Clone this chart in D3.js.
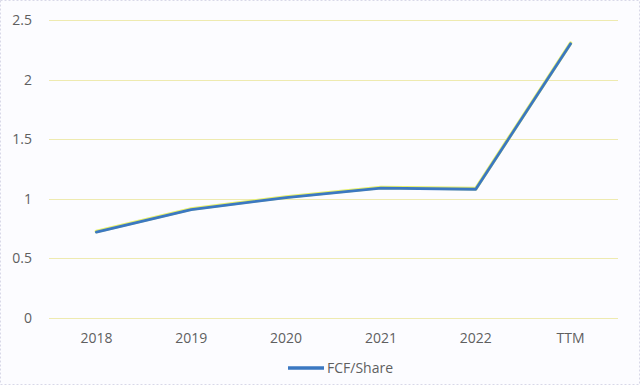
<!DOCTYPE html>
<html lang="en">
  <head>
    <meta charset="utf-8">
    <title>FCF/Share</title>
    <script src="https://d3js.org/d3.v7.min.js"></script>
    <style>
      body { margin: 0; background: #ffffff; }
    </style>
  </head>
  <body>
    <div id="my_dataviz"></div>
    <script>

    // data
    var categories = ["2018", "2019", "2020", "2021", "2022", "TTM"];
    var fcfPerShare = [0.72, 0.91, 1.01, 1.09, 1.08, 2.30];
    var yTicks = [0, 0.5, 1, 1.5, 2, 2.5];
    var seriesName = "FCF/Share";

    var W = 640, H = 385;
    var margin = {top: 20, right: 22, bottom: 67, left: 49},
        width = W - margin.left - margin.right,
        height = H - margin.top - margin.bottom;

    var root = d3.select("#my_dataviz")
      .append("svg")
        .attr("width", W)
        .attr("height", H);

    // chart background and border
    root.append("rect")
      .attr("x", 0.5).attr("y", 0.5)
      .attr("width", W - 1).attr("height", H - 1)
      .attr("fill", "#fcfcff")
      .attr("stroke", "#d8d8e8")
      .attr("stroke-dasharray", "2,2");

    var svg = root.append("g")
      .attr("transform", "translate(" + margin.left + "," + margin.top + ")");

    var x = d3.scaleBand()
      .domain(categories)
      .range([0, width]);

    var y = d3.scaleLinear()
      .domain([0, 2.5])
      .range([height, 0]);

    // gridlines
    svg.append("g")
      .selectAll("line")
      .data(yTicks)
      .enter()
      .append("line")
        .attr("x1", 0)
        .attr("x2", width)
        .attr("y1", function(d) { return Math.round(y(d)) + 0.5; })
        .attr("y2", function(d) { return Math.round(y(d)) + 0.5; })
        .attr("stroke", "#eeeab0")
        .attr("stroke-width", 1);

    // y axis
    var yAxis = svg.append("g")
      .call(d3.axisLeft(y).tickValues(yTicks).tickSize(0).tickPadding(17)
        .tickFormat(function(d) { return String(d); }));
    yAxis.select(".domain").remove();
    yAxis.selectAll("text")
      .style("fill", "#5f5f5f")
      .style("font", "14px 'Open Sans', sans-serif");

    // x axis
    var xAxis = svg.append("g")
      .attr("transform", "translate(0," + height + ")")
      .call(d3.axisBottom(x).tickSize(0).tickPadding(15));
    xAxis.select(".domain").remove();
    xAxis.selectAll("text")
      .style("fill", "#5f5f5f")
      .style("font", "14px 'Open Sans', sans-serif");

    // the line (yellow fringe under a blue stroke)
    var line = d3.line()
      .x(function(d, i) { return x(categories[i]) + x.bandwidth() / 2; })
      .y(function(d) { return y(d); });

    svg.append("path")
      .datum(fcfPerShare)
      .attr("fill", "none")
      .attr("stroke", "#e6ef6a")
      .attr("stroke-width", 3.6)
      .attr("stroke-linecap", "round")
      .attr("transform", "translate(0,-0.6)")
      .attr("d", line);

    svg.append("path")
      .datum(fcfPerShare)
      .attr("fill", "none")
      .attr("stroke", "#3b78c2")
      .attr("stroke-width", 2.8)
      .attr("stroke-linecap", "round")
      .attr("stroke-linejoin", "round")
      .attr("d", line);

    // legend
    var legend = root.append("g")
      .attr("transform", "translate(" + (W / 2) + "," + 368 + ")");
    legend.append("line")
      .attr("x1", -32).attr("x2", 4)
      .attr("y1", 0).attr("y2", 0)
      .attr("stroke", "#3b78c2")
      .attr("stroke-width", 3.5);
    legend.append("text")
      .attr("x", 7)
      .attr("y", 5)
      .text(seriesName)
      .style("fill", "#5f5f5f")
      .style("font", "14px 'Open Sans', sans-serif");

    </script>
  </body>
</html>
